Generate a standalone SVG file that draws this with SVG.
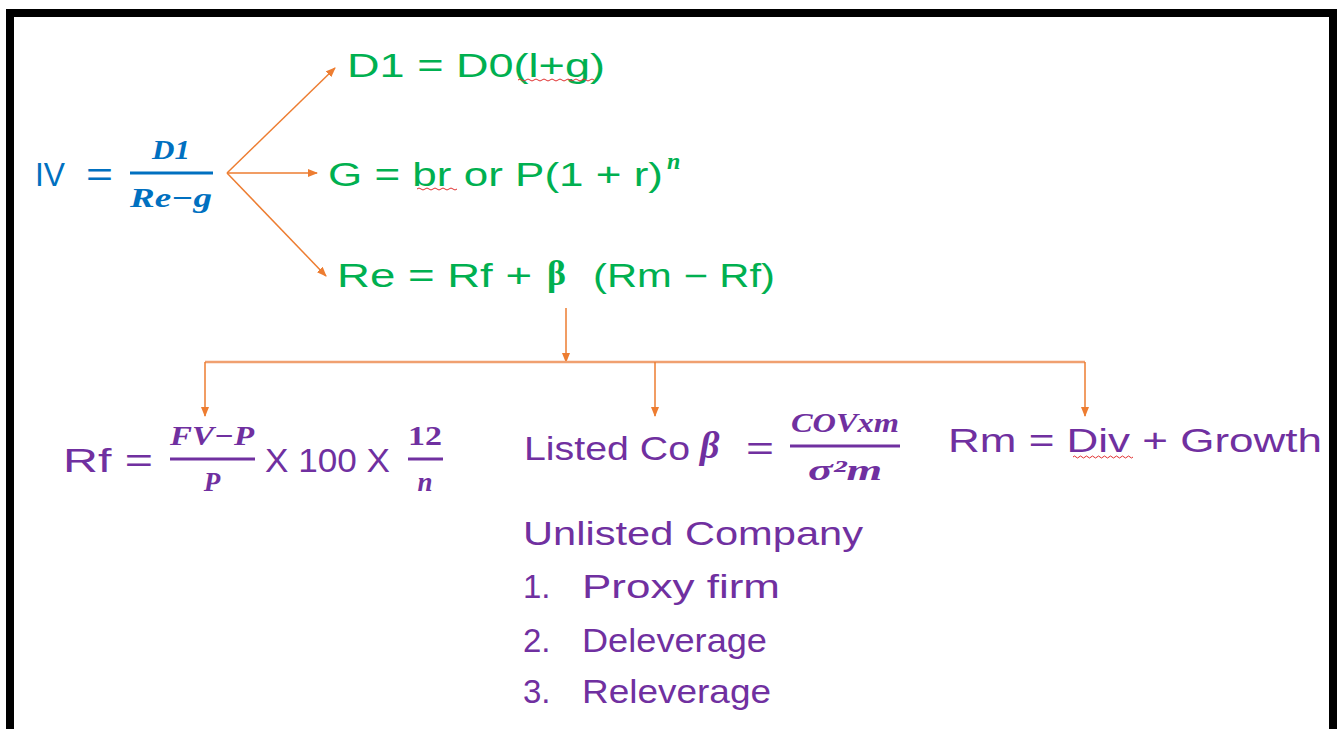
<svg xmlns="http://www.w3.org/2000/svg" width="1343" height="729" viewBox="0 0 1343 729">
<style>
.hw{font-family:"Liberation Sans","Noto Sans",sans-serif;font-size:33px}
.blue{fill:#0070C0}
.green{fill:#00B050}
.purple{fill:#7030A0}
.math{font-family:"Liberation Serif","DejaVu Serif",serif;font-weight:bold;font-style:italic}
.mathu{font-family:"Liberation Serif","DejaVu Serif",serif;font-weight:bold}
.conn{stroke:#ED7D31;stroke-width:1.5;fill:none}
.bar{stroke-width:3}
.wavy{stroke:#E03030;stroke-width:1;fill:none}
</style>
<defs>
<marker id="ah" markerWidth="10" markerHeight="8" refX="9" refY="4" orient="auto" markerUnits="userSpaceOnUse">
<path d="M0,0 L10,4 L0,8 Z" fill="#ED7D31"/>
</marker>
</defs>
<rect x="0" y="0" width="1343" height="729" fill="#fff"/>
<rect x="10" y="13" width="1323" height="760" fill="none" stroke="#000" stroke-width="8"/>

<g id="connectors">
<line class="conn" x1="227" y1="173" x2="335" y2="68" marker-end="url(#ah)"/>
<line class="conn" x1="227" y1="173" x2="317" y2="173" marker-end="url(#ah)"/>
<line class="conn" x1="227" y1="173" x2="326" y2="276" marker-end="url(#ah)"/>
<line class="conn" x1="566" y1="308" x2="566" y2="362" marker-end="url(#ah)"/>
<line x1="205" y1="362" x2="1085" y2="362" stroke="#F0A070" stroke-width="2.5"/>
<line class="conn" x1="205" y1="362" x2="205" y2="416" marker-end="url(#ah)"/>
<line class="conn" x1="655" y1="362" x2="655" y2="416" marker-end="url(#ah)"/>
<line class="conn" x1="1085" y1="362" x2="1085" y2="416" marker-end="url(#ah)"/>
</g>

<g id="node-iv">
<text class="hw blue" x="35" y="186" textLength="30" lengthAdjust="spacingAndGlyphs">IV</text>
<text class="hw blue" x="86" y="186" textLength="27" lengthAdjust="spacingAndGlyphs">=</text>
<text class="math blue" x="171" y="159" text-anchor="middle" style="font-size:27px" textLength="38" lengthAdjust="spacingAndGlyphs">D1</text>
<line x1="130" y1="173" x2="213" y2="173" stroke="#0070C0" class="bar"/>
<text class="math blue" x="171" y="207" text-anchor="middle" style="font-size:27px" textLength="82" lengthAdjust="spacingAndGlyphs">Re−g</text>
</g>

<g id="node-d1">
<text class="hw green" x="347" y="77" textLength="258" lengthAdjust="spacingAndGlyphs">D1 = D0(l+g)</text>
<path class="wavy" d="M518,80 q2,-2 4,0 t4,0 t4,0 t4,0 t4,0 t4,0 t4,0 t4,0 t4,0 t4,0 t4,0 t4,0 t4,0 t4,0 t4,0 t4,0 t4,0 t4,0 t4,0"/>
</g>

<g id="node-g">
<text class="hw green" x="328" y="186" textLength="335" lengthAdjust="spacingAndGlyphs">G = br or P(1 + r)</text>
<text class="math green" x="667" y="169" style="font-size:24px">n</text>
<path class="wavy" d="M417,189 q2,-2 4,0 t4,0 t4,0 t4,0 t4,0 t4,0 t4,0 t4,0 t4,0 t4,0"/>
</g>

<g id="node-re">
<text class="hw green" x="337" y="287" textLength="195" lengthAdjust="spacingAndGlyphs">Re = Rf +</text>
<text class="mathu green" x="547" y="285" style="font-size:36px">β</text>
<text class="hw green" x="593" y="287" textLength="182" lengthAdjust="spacingAndGlyphs">(Rm − Rf)</text>
</g>

<g id="node-rf">
<text class="hw purple" x="63" y="472" textLength="90" lengthAdjust="spacingAndGlyphs">Rf =</text>
<text class="math purple" x="212" y="445" text-anchor="middle" style="font-size:27px" textLength="84" lengthAdjust="spacingAndGlyphs">FV−P</text>
<line x1="170" y1="459" x2="255" y2="459" stroke="#7030A0" class="bar"/>
<text class="math purple" x="212" y="491" text-anchor="middle" style="font-size:27px">P</text>
<text class="hw purple" x="265" y="472" textLength="125" lengthAdjust="spacingAndGlyphs">X 100 X</text>
<text class="mathu purple" x="425" y="445" text-anchor="middle" style="font-size:27px" textLength="34" lengthAdjust="spacingAndGlyphs">12</text>
<line x1="408" y1="459" x2="443" y2="459" stroke="#7030A0" class="bar"/>
<text class="math purple" x="425" y="491" text-anchor="middle" style="font-size:27px">n</text>
</g>

<g id="node-beta">
<text class="hw purple" x="524" y="460" textLength="166" lengthAdjust="spacingAndGlyphs">Listed Co</text>
<text class="math purple" x="700" y="458" style="font-size:38px">β</text>
<text class="hw purple" x="746" y="460" textLength="28" lengthAdjust="spacingAndGlyphs">=</text>
<text class="math purple" x="845" y="432" text-anchor="middle" style="font-size:27px" textLength="108" lengthAdjust="spacingAndGlyphs">COVxm</text>
<line x1="790" y1="446" x2="900" y2="446" stroke="#7030A0" class="bar"/>
<text class="math purple" x="845" y="480" text-anchor="middle" style="font-size:29px" textLength="74" lengthAdjust="spacingAndGlyphs">σ²m</text>
</g>

<g id="node-rm">
<text class="hw purple" x="948" y="452" textLength="374" lengthAdjust="spacingAndGlyphs">Rm = Div + Growth</text>
<path class="wavy" d="M1073,457 q1.5,-2 3,0 t3,0 t3,0 t3,0 t3,0 t3,0 t3,0 t3,0 t3,0 t3,0 t3,0 t3,0 t3,0 t3,0 t3,0 t3,0 t3,0 t3,0 t3,0 t3,0"/>
</g>

<g id="node-unlisted">
<text class="hw purple" x="523" y="545" textLength="340" lengthAdjust="spacingAndGlyphs">Unlisted Company</text>
<text class="hw purple" x="523" y="598">1.</text>
<text class="hw purple" x="582" y="598" textLength="198" lengthAdjust="spacingAndGlyphs">Proxy firm</text>
<text class="hw purple" x="523" y="652">2.</text>
<text class="hw purple" x="582" y="652" textLength="185" lengthAdjust="spacingAndGlyphs">Deleverage</text>
<text class="hw purple" x="523" y="703">3.</text>
<text class="hw purple" x="582" y="703" textLength="189" lengthAdjust="spacingAndGlyphs">Releverage</text>
</g>
</svg>
